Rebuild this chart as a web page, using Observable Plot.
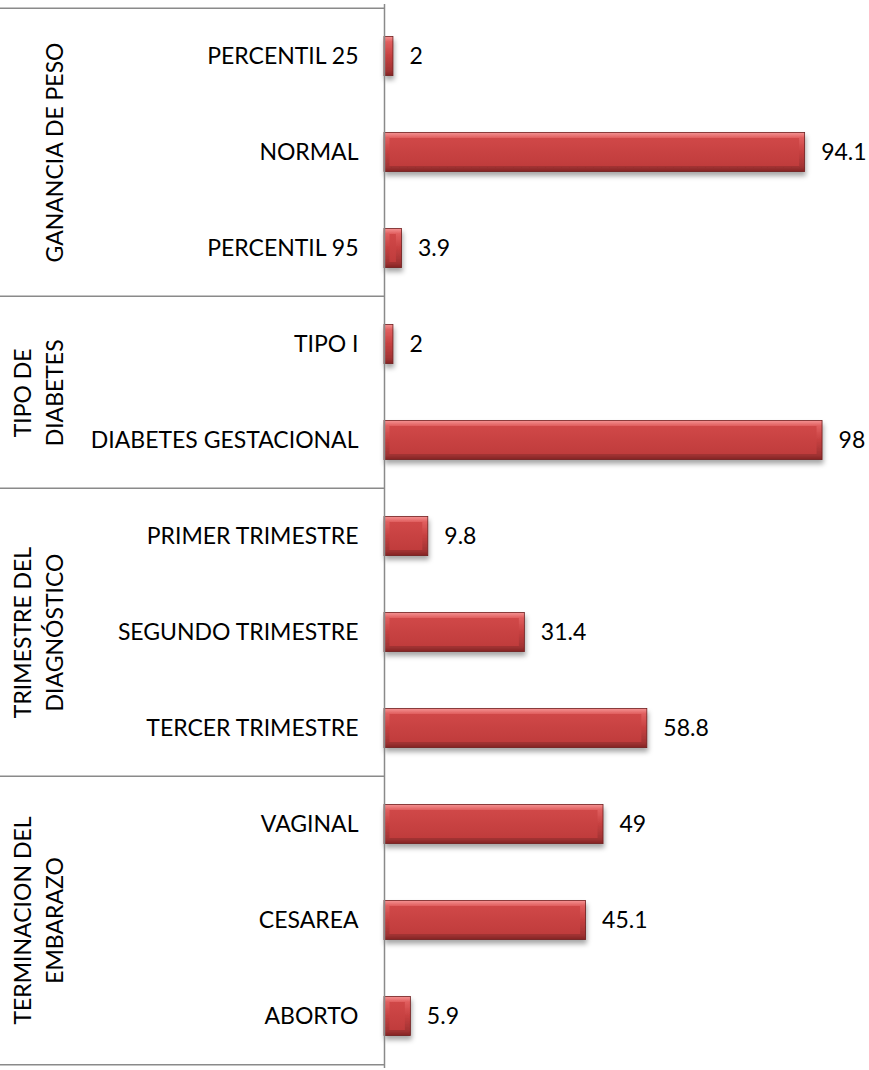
<!DOCTYPE html>
<html><head><meta charset="utf-8">
<script src="https://cdn.jsdelivr.net/npm/d3@7"></script>
<script src="https://cdn.jsdelivr.net/npm/@observablehq/plot@0.6"></script>
<style>body{margin:0;background:#fff}</style>
</head><body><div id="chart"></div>
<script>
const categories = ["PERCENTIL 25","NORMAL","PERCENTIL 95","TIPO I","DIABETES GESTACIONAL","PRIMER TRIMESTRE","SEGUNDO TRIMESTRE","TERCER TRIMESTRE","VAGINAL","CESAREA","ABORTO"];
const values = [2, 94.1, 3.9, 2, 98, 9.8, 31.4, 58.8, 49, 45.1, 5.9];
const groupNames = ["GANANCIA DE PESO", "TIPO DE\nDIABETES", "TRIMESTRE DEL\nDIAGNÓSTICO", "TERMINACION DEL\nEMBARAZO"];
const groupSizes = [3, 2, 3, 3];

const W = 869, H = 1070;
const mTop = 4, mBottom = 2, mLeft = 384, mRight = 38;
const step = (H - mTop - mBottom) / categories.length;
const FONT = "Lato, 'Open Sans', sans-serif";

const rows = categories.map((c, i) => ({category: c, value: values[i]}));
const groups = [];
let k = 0;
groupNames.forEach((g, gi) => {
  const members = categories.slice(k, k + groupSizes[gi]);
  k += groupSizes[gi];
  const n = members.length;
  groups.push({label: g, first: members[0], last: members[n - 1],
    anchor: n % 2 ? members[(n - 1) / 2] : members[n / 2 - 1], even: n % 2 === 0});
});

const svg = Plot.plot({
  width: W, height: H,
  marginTop: mTop, marginBottom: mBottom, marginLeft: mLeft, marginRight: mRight,
  style: {fontFamily: FONT, fontSize: "23px", color: "#000", background: "#fff"},
  x: {domain: [0, 100], axis: null},
  y: {domain: categories, padding: 0, label: null},
  marks: [
    Plot.axisY({tickSize: 0, tickPadding: 26, label: null}),
    Plot.barX(rows, {x: "value", y: "category", insetTop: 28.4, insetBottom: 28.4,
      fill: "url(#bevelV)", stroke: "#6e1f1f", strokeWidth: 0.8}),
    Plot.barX(rows, {x: "value", y: "category", insetTop: 34, insetBottom: 34, insetLeft: 5.5, insetRight: 5.5,
      fill: "url(#face)"}),
    Plot.text(rows, {x: "value", y: "category", text: d => String(d.value), dx: 16, textAnchor: "start"}),
    Plot.ruleY(groups, {y: "first", dy: -step / 2, insetLeft: -mLeft, insetRight: W - mLeft - mRight, stroke: "#8a8a8a", strokeWidth: 1.5}),
    Plot.ruleY(groups.slice(-1), {y: "last", dy: step / 2, insetLeft: -mLeft, insetRight: W - mLeft - mRight, stroke: "#8a8a8a", strokeWidth: 1.5}),
    Plot.ruleX([0], {stroke: "#8a8a8a", strokeWidth: 1.5}),
    Plot.text(groups.filter(d => !d.even), {y: "anchor", text: "label", rotate: -90, frameAnchor: "left", dx: 62 - mLeft,
      lineAnchor: "bottom", textAnchor: "middle", lineHeight: 1.35}),
    Plot.text(groups.filter(d => d.even), {y: "anchor", text: "label", rotate: -90, frameAnchor: "left", dx: 62 - mLeft, dy: step / 2,
      lineAnchor: "bottom", textAnchor: "middle", lineHeight: 1.35})
  ]
});

const defs = d3.select(svg).insert("defs", ":first-child");
const g1 = defs.append("linearGradient").attr("id", "bevelV").attr("x1", 0).attr("y1", 0).attr("x2", 0).attr("y2", 1);
[[0, "#f59494"], [0.14, "#e05e5e"], [0.5, "#c64040"], [0.86, "#a43434"], [1, "#842424"]]
  .forEach(([o, c]) => g1.append("stop").attr("offset", o).attr("stop-color", c));
const g2 = defs.append("linearGradient").attr("id", "face").attr("x1", 0).attr("y1", 0).attr("x2", 0).attr("y2", 1);
[[0, "#d04848"], [1, "#c03c3c"]].forEach(([o, c]) => g2.append("stop").attr("offset", o).attr("stop-color", c));
const f = defs.append("filter").attr("id", "shadow").attr("x", "-10%").attr("y", "-30%").attr("width", "130%").attr("height", "180%");
f.append("feDropShadow").attr("dx", 1).attr("dy", 4).attr("stdDeviation", 2.5).attr("flood-color", "#000").attr("flood-opacity", 0.35);
d3.select(svg).selectAll("g[aria-label='bar']").filter((d, i) => i === 0).attr("filter", "url(#shadow)");

document.getElementById("chart").appendChild(svg);
</script>
</body></html>
